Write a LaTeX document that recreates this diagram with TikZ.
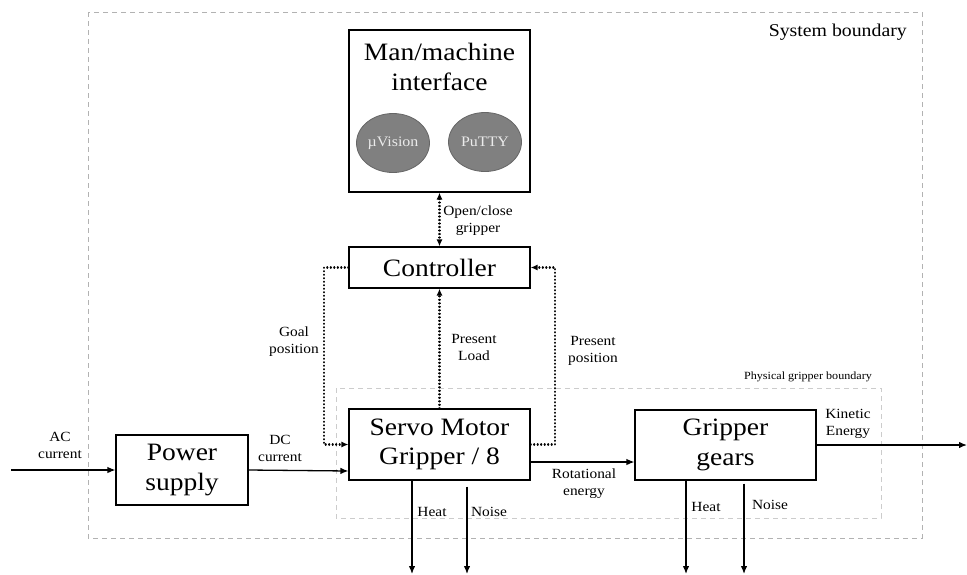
\documentclass[tikz,border=0pt]{standalone}
\usepackage{fontspec}
\setmainfont{Liberation Serif}[FakeStretch=1.1]
\usetikzlibrary{arrows.meta,shapes.geometric}
\tikzset{
  box/.style={draw, line width=1.1pt, inner sep=0pt},
  bigtxt/.style={font=\fontsize{25}{29.5}\selectfont, align=center},
  lbl/.style={font=\fontsize{14}{17}\selectfont, align=center, inner sep=0pt},
  flow/.style={line width=1.3pt, -{Latex[length=8pt,width=6.5pt]}},
  dots/.style={line width=2.1pt, line cap=round, dash pattern=on 0.3pt off 3.2pt},
  sig/.style={dots, -{Latex[length=7pt,width=6pt,line cap=butt]}},
  sigboth/.style={dots, {Latex[length=7pt,width=6pt,line cap=butt]}-{Latex[length=7pt,width=6pt,line cap=butt]}},
  bound/.style={draw=black!30, line width=0.8pt, dash pattern=on 5pt off 4pt},
  app/.style={ellipse, draw=black!60, fill=black!50, line width=0.8pt, minimum width=73pt, minimum height=59pt, inner sep=0pt, text=black!8, font=\fontsize{14.5}{17}\selectfont}
}
\begin{document}
\begin{tikzpicture}[x=1pt,y=-1pt]
\useasboundingbox (0,0) rectangle (967,574);
% boundaries
\draw[bound] (88,12) rectangle (922,538);
\node[font=\fontsize{18}{21}\selectfont, anchor=east, inner sep=0pt] (sysb) at (907,32) {System boundary};
\draw[bound, draw=black!20] (336,388) rectangle (881,518);
\node[font=\fontsize{11}{13}\selectfont, inner sep=0pt] (physb) at (808,377) {Physical gripper boundary};
% boxes
\node[box, minimum width=181pt, minimum height=162pt] (mmi) at (439.5,111) {};
\node[bigtxt] (mmitxt) at (439.5,67) {Man/machine\\interface};
\node[app] (uv) at (393,143) {µVision};
\node[app] (pt) at (485,142) {PuTTY};
\node[box, bigtxt, minimum width=181pt, minimum height=41pt] (ctrl) at (439.5,267.5) {Controller};
\node[box, bigtxt, minimum width=181pt, minimum height=71pt] (servo) at (439.5,444.5) {Servo Motor\\Gripper / 8};
\node[box, bigtxt, minimum width=132pt, minimum height=70pt] (ps) at (182,470) {Power\\supply};
\node[box, bigtxt, minimum width=181pt, minimum height=70pt] (gears) at (725.5,445) {Gripper\\gears};
% signal connectors
\draw[sigboth] (mmi) -- (ctrl);
\coordinate (gl) at (324,350);
\draw[sig] (ctrl.west) -| (gl) |- (servo.west);
\coordinate (pp) at (555,350);
\draw[sig] (servo.east) -| (pp) |- (ctrl.east);
\draw[sig] (servo) -- (ctrl);
% energy flows
\coordinate (acin) at (11,470);
\draw[flow] (acin) -- (ps.west);
\draw[flow] (ps.east) -- ([yshift=-1pt]ps.east -| servo.west);
\draw[flow] ([yshift=-17.5pt]servo.east) -- ([yshift=-17.5pt]servo.east -| gears.west);
\coordinate (kout) at (967,445);
\draw[flow] (gears.east) -- (kout);
\coordinate (sh) at (412,574);
\coordinate (sn) at (467,574);
\coordinate (gh) at (686,574);
\coordinate (gn) at (744,574);
\draw[flow] (servo.south -| sh) -- (sh);
\draw[flow] ([yshift=-6pt]servo.south -| sn) -- (sn);
\draw[flow] (gears.south -| gh) -- (gh);
\draw[flow] ([yshift=-3pt]gears.south -| gn) -- (gn);
% labels
\node[lbl] (l1) at (478,220.5) {Open/close\\gripper};
\node[lbl] (l2) at (294,342) {Goal\\position};
\node[lbl] (l3) at (474,347) {Present\\Load};
\node[lbl] (l4) at (593,351) {Present\\position};
\node[lbl] (l5) at (60,445.5) {AC\\current};
\node[lbl] (l6) at (280,448.5) {DC\\current};
\node[lbl] (l7) at (584,484) {Rotational\\energy};
\node[lbl] (l8) at (848,423.5) {Kinetic\\Energy};
\node[lbl] (l9) at (432,512) {Heat};
\node[lbl] (l10) at (489,512) {Noise};
\node[lbl] (l11) at (706,507) {Heat};
\node[lbl] (l12) at (770,505) {Noise};
\end{tikzpicture}
\end{document}
